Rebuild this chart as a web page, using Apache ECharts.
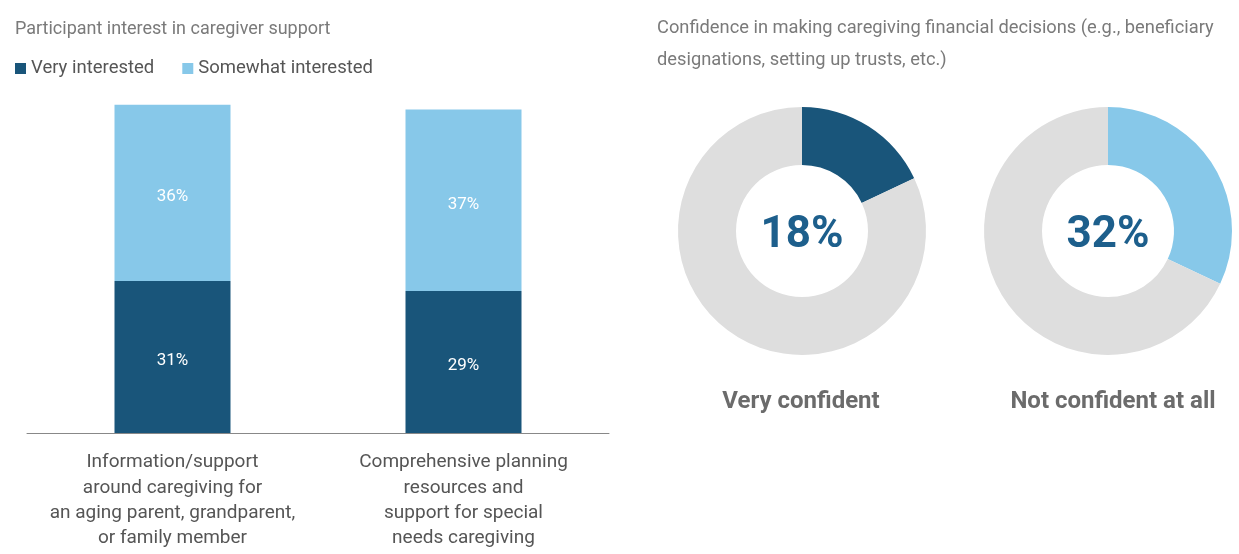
<!DOCTYPE html>
<html>
<head>
<meta charset="utf-8">
<script src="https://cdn.jsdelivr.net/npm/echarts@6/dist/echarts.min.js"></script>
<style>
  html, body { margin: 0; padding: 0; background: #fff; }
  #chart { width: 1239px; height: 554px; }
</style>
</head>
<body>
<div id="chart"></div>
<script>
const categories = [
  'Information/support\naround caregiving for\nan aging parent, grandparent,\nor family member',
  'Comprehensive planning\nresources and\nsupport for special\nneeds caregiving'
]
const veryInterested = [31, 29]
const somewhatInterested = [36, 37]

const donutNames = ['Very confident', 'Not confident at all']
const donutValues = [18, 32]

const dark = '#19557a'
const light = '#87c8e9'
const grey = '#dedede'
const font = 'Roboto'

const myChart = echarts.init(document.getElementById('chart'))

// donut centres, and where the captions sit below them
const centers = [[802, 231], [1108, 231]]
const captionX = [796, 1108]
const donutColors = [dark, light]

const pies = donutValues.map((v, i) => ({
  type: 'pie',
  center: centers[i],
  radius: [66, 124],
  startAngle: 90,
  silent: true,
  animation: false,
  label: { show: false },
  labelLine: { show: false },
  labelLayout: { dy: 5 },
  data: [
    {
      value: v,
      name: donutNames[i],
      itemStyle: { color: donutColors[i] },
      label: {
        show: true,
        position: 'center',
        formatter: '{c}%',
        fontFamily: font,
        fontSize: 44,
        fontWeight: 'bold',
        color: '#1d5f8c'
      }
    },
    { value: 100 - v, name: 'rest', itemStyle: { color: grey } }
  ]
}))

const barLabel = {
  show: true, position: 'inside', formatter: '{c}%', offset: [0, 4],
  color: '#fff', fontFamily: font, fontSize: 17
}

const option = {
  animation: false,
  textStyle: { fontFamily: font },
  title: [
    {
      text: 'Participant interest in caregiver support',
      left: 10, top: 15,
      textStyle: { fontFamily: font, fontSize: 18, fontWeight: 'normal', color: '#7a7a7a' }
    },
    {
      text: 'Confidence in making caregiving financial decisions (e.g., beneficiary\ndesignations, setting up trusts, etc.)',
      left: 652, top: 7,
      textStyle: { fontFamily: font, fontSize: 18.3, fontWeight: 'normal', color: '#7a7a7a', lineHeight: 32 }
    },
    ...donutNames.map((n, i) => ({
      text: n,
      left: captionX[i],
      top: 385,
      textAlign: 'center',
      textStyle: { fontFamily: font, fontSize: 24, fontWeight: 'bold', color: '#6b6b6b' }
    }))
  ],
  legend: {
    left: 10, top: 54,
    itemWidth: 11, itemHeight: 11, itemGap: 28,
    icon: 'rect',
    selectedMode: false,
    textStyle: { fontFamily: font, fontSize: 18.5, color: '#555' },
    data: ['Very interested', 'Somewhat interested']
  },
  grid: { left: 27, right: 630, top: 90, bottom: 121 },
  xAxis: {
    type: 'category',
    data: categories,
    axisLine: { lineStyle: { color: '#888', width: 1 } },
    axisTick: { show: false },
    axisLabel: {
      interval: 0, margin: 17,
      fontFamily: font, fontSize: 19, color: '#555', lineHeight: 25.3, align: 'center'
    }
  },
  yAxis: {
    type: 'value', min: 0, max: 70,
    show: false, splitLine: { show: false }
  },
  series: [
    {
      name: 'Very interested', type: 'bar', stack: 'a', barWidth: 116,
      silent: true,
      itemStyle: { color: dark },
      label: barLabel,
      data: veryInterested
    },
    {
      name: 'Somewhat interested', type: 'bar', stack: 'a', barWidth: 116,
      silent: true,
      itemStyle: { color: light },
      label: barLabel,
      data: somewhatInterested
    },
    ...pies
  ]
}
myChart.setOption(option)
</script>
</body>
</html>
